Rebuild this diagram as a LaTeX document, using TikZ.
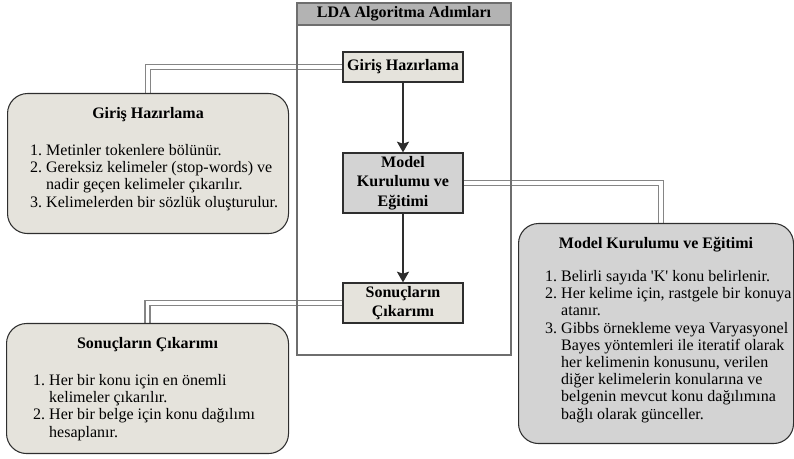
\documentclass[tikz,border=0pt]{standalone}
\usepackage{fontspec}
\setmainfont{LiberationSerif}[
  Extension=.ttf,
  UprightFont=*-Regular,
  BoldFont=*-Bold,
  ItalicFont=*-Italic,
  BoldItalicFont=*-BoldItalic]
\usetikzlibrary{arrows.meta,backgrounds}
\definecolor{beige}{HTML}{E5E3DC}
\definecolor{modelgray}{HTML}{D3D3D3}
\definecolor{bargray}{HTML}{B3B3B3}
\definecolor{framegray}{HTML}{6E6E6E}
\definecolor{linkgray}{HTML}{858585}
\definecolor{edgedark}{HTML}{2E2E2E}
\tikzset{
  stepbox/.style={
    draw=edgedark,
    line width=0.9pt,
    fill=beige,
    minimum width=90pt,
    inner sep=1pt,
    align=center,
    font=\fontsize{12}{14.5}\selectfont\bfseries
  },
  infobox/.style={
    draw=edgedark,
    line width=0.8pt,
    fill=beige,
    rounded corners=15pt,
    inner sep=0pt,
    anchor=north west,
    font=\fontsize{12}{12.9}\selectfont
  },
  frame/.style={
    draw=framegray,
    line width=1.5pt,
    minimum width=160.5pt,
    minimum height=264pt
  },
  titlebar/.style={
    draw=framegray,
    line width=1.5pt,
    fill=bargray,
    minimum width=160.5pt,
    minimum height=16.5pt,
    inner sep=0pt,
    font=\fontsize{12}{14}\selectfont\bfseries
  },
  link/.style={
    draw=linkgray,
    line width=1.1pt,
    double=white,
    double distance=2.6pt
  },
  flow/.style={
    draw=edgedark,
    line width=1.5pt,
    -{Stealth[length=8pt,width=9pt,inset=1.5pt]}
  }
}

\begin{document}
\begin{tikzpicture}[x=0.75pt,y=-0.75pt]
  \useasboundingbox (0,0) rectangle (794,459);
  % container
  \node[frame] (lda) at (404,179) {};
  \node[titlebar, anchor=north] (ldatitle) at (lda.north) {LDA Algoritma Ad\i mlar\i};
  % steps
  \node[stepbox, minimum height=22.5pt] (girisstep) at (403,67) {Giriş Hazırlama};
  \node[stepbox, minimum height=45pt, fill=modelgray] (modelstep) at (403,183) {Model\\Kurulumu ve\\Eğitimi};
  \node[stepbox, minimum height=30pt] (sonucstep) at (403,303) {Sonuçların\\Çıkarımı};
  \draw[flow] (girisstep) -- (modelstep);
  \draw[flow] (modelstep) -- (sonucstep);
  % details
  \node[infobox] (girisinfo) at (7,93) {\parbox[c][105pt][t]{210.75pt}{%
    \centering\rule{0pt}{18.75pt}{\bfseries Giriş Hazırlama}\par
    \vspace{14.85pt}\raggedright\hspace*{17pt}%
    \begin{tabular}[t]{@{}r@{\ }l@{}}
      1. & Metinler tokenlere bölünür.\\
      2. & Gereksiz kelimeler (stop-words) ve\\
         & nadir geçen kelimeler çıkarılır.\\
      3. & Kelimelerden bir sözlük oluşturulur.
    \end{tabular}\par}};
  \node[infobox, fill=modelgray] (modelinfo) at (518,223) {\parbox[c][165pt][t]{206.25pt}{%
    \centering\rule{0pt}{18.75pt}{\bfseries Model Kurulumu ve Eğitimi}\par
    \vspace{11.85pt}\raggedright\hspace*{20pt}%
    \begin{tabular}[t]{@{}r@{\ }l@{}}
      1. & Belirli sayıda \textquotesingle K\textquotesingle{} konu belirlenir.\\
      2. & Her kelime için, rastgele bir konuya\\
         & atanır.\\
      3. & Gibbs örnekleme veya Varyasyonel\\
         & Bayes yöntemleri ile iteratif olarak\\
         & her kelimenin konusunu, verilen\\
         & diğer kelimelerin konularına ve\\
         & belgenin mevcut konu dağılımına\\
         & bağlı olarak günceller.
    \end{tabular}\par}};
  \node[infobox] (sonucinfo) at (6,323) {\parbox[c][97.5pt][t]{211.5pt}{%
    \centering\rule{0pt}{18.75pt}{\bfseries Sonuçların Çıkarımı}\par
    \vspace{14.85pt}\raggedright\hspace*{20pt}%
    \begin{tabular}[t]{@{}r@{\ }l@{}}
      1. & Her bir konu için en önemli\\
         & kelimeler çıkarılır.\\
      2. & Her bir belge için konu dağılımı\\
         & hesaplanır.
    \end{tabular}\par}};
  % links under the frame
  \begin{scope}[on background layer]
    \draw[link] (girisstep.west) -| (girisinfo.north);
    \draw[link] (modelstep.east) -| ([xshift=3.75pt]modelinfo.north);
    \draw[link] (sonucstep.west) -| (sonucinfo.north);
  \end{scope}
\end{tikzpicture}
\end{document}
